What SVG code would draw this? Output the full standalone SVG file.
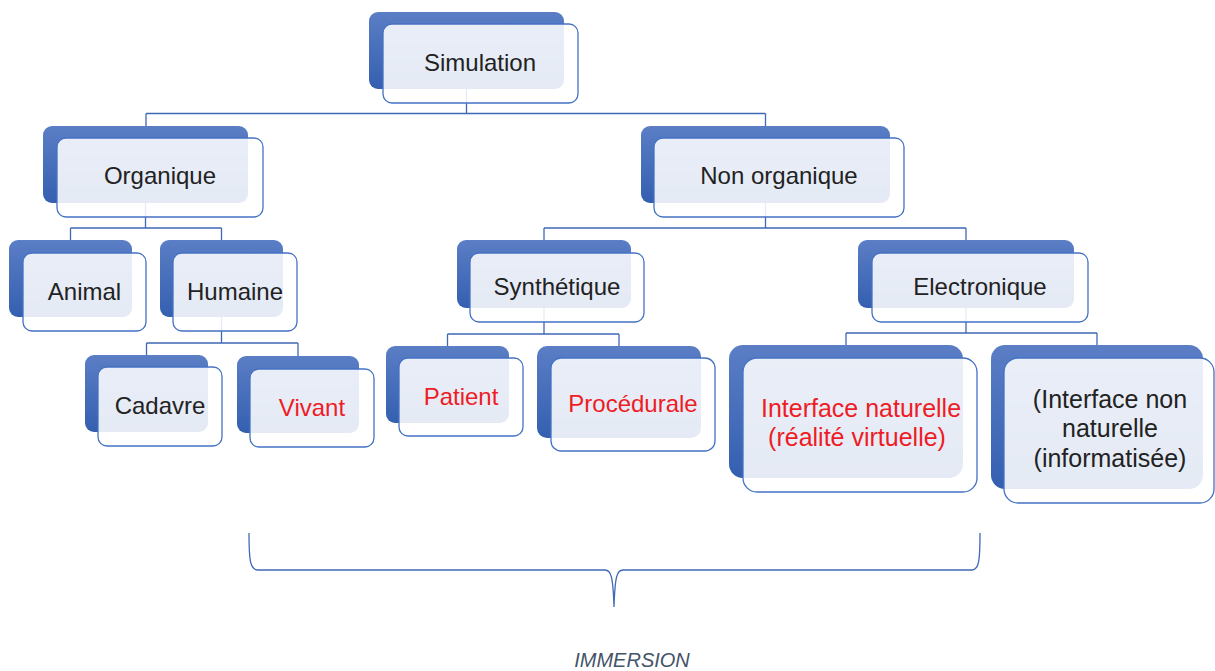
<svg xmlns="http://www.w3.org/2000/svg" width="1215" height="671" viewBox="0 0 1215 671">
<defs>
<linearGradient id="bg" x1="0" y1="0" x2="0" y2="1">
<stop offset="0" stop-color="#5B7EC5"/>
<stop offset="1" stop-color="#345FB0"/>
</linearGradient>
<style>
.back{fill:url(#bg);}
.front{fill:#ffffff;fill-opacity:0.87;stroke:#4472C4;stroke-width:1.3;}
.con{fill:none;stroke:#3F68B5;stroke-width:1.3;}
.t{font-family:"Liberation Sans",Arial,sans-serif;font-size:24px;text-anchor:middle;fill:#222222;}
.r{fill:#EE1C25;}
.imm{font-family:"Liberation Sans",Arial,sans-serif;font-size:20px;font-style:italic;text-anchor:middle;fill:#44546A;}
</style>
</defs>
<rect width="1215" height="671" fill="#ffffff"/>
<g id="connectors" class="con">
<path d="M466.5,89 V113.5 M146,113.5 H765.5 M146,113.5 V126 M765.5,113.5 V126"/>
<path d="M145.5,203 V228 M70.5,228 H221.5 M70.5,228 V240 M221.5,228 V240"/>
<path d="M221.5,317 V343 M146.5,343 H298 M146.5,343 V355 M298,343 V356"/>
<path d="M765.5,203 V228 M544,228 H966 M544,228 V240 M966,228 V240"/>
<path d="M544,308 V334 M447.5,334 H619 M447.5,334 V346 M619,334 V346"/>
<path d="M966,308 V333 M846,333 H1097 M846,333 V345 M1097,333 V345"/>
<path d="M249,533 C249,560 250,570 258,570 L605,570 C611,570 613,576 614,607 C615,576 617,570 623,570 L972,570 C979,570 980,560 980,533"/>
</g>
<g id="n-simulation">
<rect class="back" x="369" y="12" width="195" height="77" rx="9"/>
<rect class="front" x="383" y="24" width="195" height="79" rx="9"/>
<text class="t" x="480" y="71">Simulation</text>
</g>
<g id="n-organique">
<rect class="back" x="43" y="126" width="205" height="77" rx="9"/>
<rect class="front" x="57" y="138" width="206" height="79" rx="9"/>
<text class="t" x="160" y="184">Organique</text>
</g>
<g id="n-nonorganique">
<rect class="back" x="641" y="126" width="249" height="77" rx="9"/>
<rect class="front" x="654" y="138" width="250" height="79" rx="9"/>
<text class="t" x="779" y="184">Non organique</text>
</g>
<g id="n-animal">
<rect class="back" x="9" y="240" width="123" height="77" rx="9"/>
<rect class="front" x="23" y="253" width="123" height="78" rx="9"/>
<text class="t" x="84.5" y="300">Animal</text>
</g>
<g id="n-humaine">
<rect class="back" x="160" y="240" width="123" height="77" rx="9"/>
<rect class="front" x="173" y="253" width="124" height="78" rx="9"/>
<text class="t" x="235" y="300">Humaine</text>
</g>
<g id="n-cadavre">
<rect class="back" x="85" y="355" width="123" height="77" rx="9"/>
<rect class="front" x="98" y="367" width="124" height="79" rx="9"/>
<text class="t" x="160" y="414">Cadavre</text>
</g>
<g id="n-vivant">
<rect class="back" x="237" y="356" width="122" height="77" rx="9"/>
<rect class="front" x="250" y="369" width="124" height="78" rx="9"/>
<text class="t r" x="312" y="416">Vivant</text>
</g>
<g id="n-synthetique">
<rect class="back" x="457" y="240" width="174" height="68" rx="9"/>
<rect class="front" x="470" y="253" width="174" height="69" rx="9"/>
<text class="t" x="557" y="295">Synthétique</text>
</g>
<g id="n-electronique">
<rect class="back" x="858" y="240" width="216" height="68" rx="9"/>
<rect class="front" x="872" y="253" width="216" height="69" rx="9"/>
<text class="t" x="980" y="295">Electronique</text>
</g>
<g id="n-patient">
<rect class="back" x="386" y="346" width="123" height="77" rx="9"/>
<rect class="front" x="399" y="358" width="124" height="78" rx="9"/>
<text class="t r" x="461" y="405">Patient</text>
</g>
<g id="n-procedurale">
<rect class="back" x="537" y="346" width="164" height="92" rx="10"/>
<rect class="front" x="551" y="358" width="164" height="93" rx="10"/>
<text class="t r" x="633" y="412">Procédurale</text>
</g>
<g id="n-interface-naturelle">
<rect class="back" x="729" y="345" width="234" height="133" rx="14"/>
<rect class="front" x="743" y="358" width="234" height="134" rx="14"/>
<text class="t r" x="861" y="417" style="font-size:25px">Interface naturelle</text>
<text class="t r" x="857" y="446" style="font-size:25px">(réalité virtuelle)</text>
</g>
<g id="n-interface-non-naturelle">
<rect class="back" x="991" y="345" width="212" height="144" rx="14"/>
<rect class="front" x="1004" y="358" width="210" height="145" rx="14"/>
<text class="t" x="1110" y="408" style="font-size:25px">(Interface non</text>
<text class="t" x="1110" y="437" style="font-size:25px">naturelle</text>
<text class="t" x="1110" y="467" style="font-size:25px">(informatisée)</text>
</g>
<g id="immersion-label">
<text class="imm" x="632" y="667">IMMERSION</text>
</g>
</svg>
